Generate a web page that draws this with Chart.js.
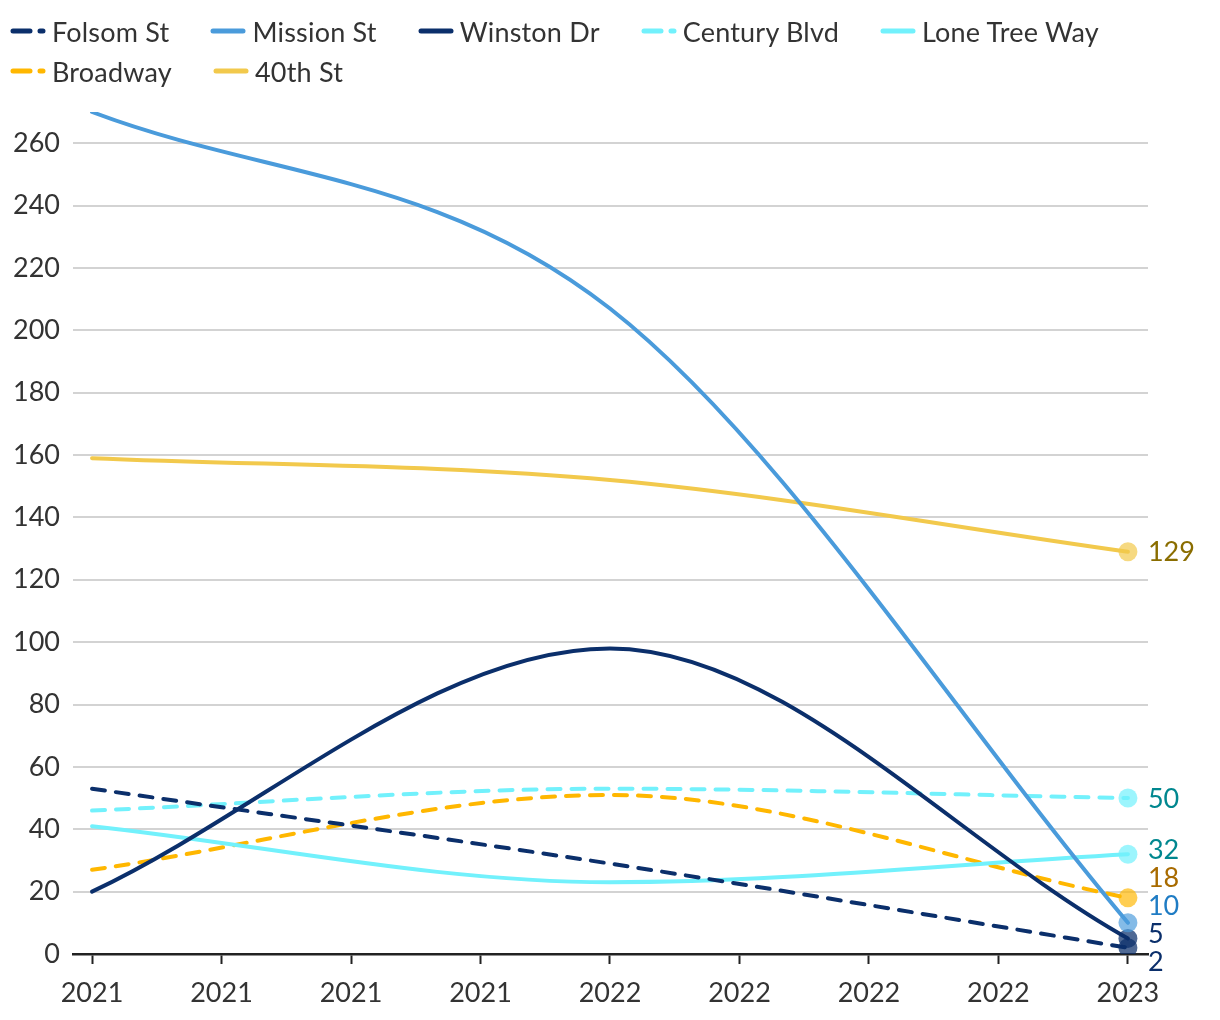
<!DOCTYPE html>
<html>
<head>
<meta charset="utf-8">
<script src="https://cdn.jsdelivr.net/npm/chart.js@4.4.1/dist/chart.umd.min.js"></script>
<style>
  body { margin: 0; background: #fff; }
  #wrap { position: relative; width: 1220px; height: 1020px; }
  #legend {
    position: absolute; left: 10px; top: 11px; width: 1200px;
    display: flex; flex-wrap: wrap;
    font-family: Lato, sans-serif; font-size: 27px; letter-spacing: 0.2px; color: #333;
  }
  .legend-item { display: flex; align-items: center; height: 40px; margin-right: 41px; }
  .legend-item svg { margin-right: 6px; }
</style>
</head>
<body>
<div id="wrap">
  <canvas id="chart" width="1220" height="1020"></canvas>
  <div id="legend"></div>
</div>
<script>
// x 軸刻度（資料只落在 0、4、8 三個位置）
const xLabels = ['2021', '2021', '2021', '2021', '2022', '2022', '2022', '2022', '2023'];
const xIndex = [0, 4, 8];

const seriesNames = ['Folsom St', 'Mission St', 'Winston Dr', 'Century Blvd', 'Lone Tree Way', 'Broadway', '40th St'];
const folsomSt = [53, 29, 2];
const missionSt = [270, 207, 10];
const winstonDr = [20, 98, 5];
const centuryBlvd = [46, 53, 50];
const loneTreeWay = [41, 23, 32];
const broadway = [27, 51, 18];
const fortiethSt = [159, 152, 129];
const seriesValues = [folsomSt, missionSt, winstonDr, centuryBlvd, loneTreeWay, broadway, fortiethSt];

const lineColors = ['#0b2f6b', '#4a9bdb', '#0b2f6b', '#72f1fc', '#72f1fc', '#ffb700', '#f2c94c'];
const markerColors = ['rgba(11,47,107,0.72)', 'rgba(74,155,219,0.68)', 'rgba(11,47,107,0.72)',
  'rgba(114,241,252,0.7)', 'rgba(114,241,252,0.7)', 'rgba(255,183,0,0.68)', 'rgba(242,201,76,0.7)'];
const labelColors = ['#0b2f6b', '#1f7cc4', '#0b2f6b', '#00878f', '#00878f', '#a86b00', '#8a6d00'];
const dashed = [true, false, false, true, false, true, false];

const yMin = 0;
const yMax = 270;
const yStep = 20;

const FONT = 'Lato, sans-serif';

// 圖例（自己畫，才能控制間距）
const legendEl = document.getElementById('legend');
legendEl.innerHTML = seriesNames.map((name, i) => `
  <div class="legend-item">
    <svg width="36" height="10">
      <line x1="3" y1="5" x2="33" y2="5" stroke="${lineColors[i]}" stroke-width="5"
        stroke-linecap="round" ${dashed[i] ? 'stroke-dasharray="17 10"' : ''}/>
    </svg>
    <span>${name}</span>
  </div>`).join('');

// 終點數值標籤，避免重疊
const endLabels = {
  id: 'endLabels',
  afterDatasetsDraw(chart) {
    const ctx = chart.ctx;
    const items = chart.data.datasets.map((ds, i) => {
      const last = ds.data.length - 1;
      const pt = chart.getDatasetMeta(i).data[last];
      return { text: String(ds.data[last].y), color: labelColors[i], x: pt.x, y: pt.y, ly: pt.y };
    }).sort((a, b) => a.y - b.y);

    const gap = 28;
    const bottom = chart.chartArea.bottom + 7;
    for (let i = 1; i < items.length; i++) {
      items[i].ly = Math.max(items[i].ly, items[i - 1].ly + gap);
    }
    if (items[items.length - 1].ly > bottom) items[items.length - 1].ly = bottom;
    for (let i = items.length - 2; i >= 0; i--) {
      items[i].ly = Math.min(items[i].ly, items[i + 1].ly - gap);
    }

    ctx.save();
    ctx.font = `27px ${FONT}`;
    ctx.textAlign = 'left';
    ctx.textBaseline = 'middle';
    items.forEach(it => {
      ctx.fillStyle = it.color;
      ctx.fillText(it.text, it.x + 20, it.ly + 1);
    });
    ctx.restore();
  }
};

const datasets = seriesNames.map((name, i) => ({
  label: name,
  data: seriesValues[i].map((v, j) => ({ x: xIndex[j], y: v })),
  borderColor: lineColors[i],
  borderWidth: 4,
  borderDash: dashed[i] ? [13, 11] : [],
  borderCapStyle: 'round',
  borderJoinStyle: 'round',
  cubicInterpolationMode: 'monotone',
  fill: false,
  pointRadius: ctx => ctx.dataIndex === seriesValues[i].length - 1 ? 9.5 : 0,
  pointHoverRadius: ctx => ctx.dataIndex === seriesValues[i].length - 1 ? 9.5 : 0,
  pointBackgroundColor: markerColors[i],
  pointBorderWidth: 0
}));

new Chart(document.getElementById('chart').getContext('2d'), {
  type: 'line',
  data: { datasets },
  options: {
    responsive: false,
    animation: false,
    events: [],
    layout: { padding: { top: 112, right: 72, bottom: 0, left: 0 } },
    plugins: {
      legend: { display: false },
      tooltip: { enabled: false }
    },
    scales: {
      x: {
        type: 'linear',
        min: -0.147,
        max: 8.155,
        afterFit: scale => { scale.height = 66; },
        ticks: {
          stepSize: 1,
          includeBounds: false,
          autoSkip: false,
          maxRotation: 0,
          padding: 13,
          color: '#333',
          font: { family: FONT, size: 27 },
          callback: v => xLabels[v]
        },
        grid: {
          display: true,
          drawOnChartArea: false,
          drawTicks: true,
          tickLength: 10,
          tickColor: '#222',
          tickWidth: 2
        },
        border: { display: true, color: '#222', width: 2.5 }
      },
      y: {
        min: yMin,
        max: yMax,
        afterFit: scale => { scale.width = 73; },
        ticks: {
          stepSize: yStep,
          includeBounds: false,
          padding: 13,
          color: '#333',
          font: { family: FONT, size: 27 }
        },
        grid: { color: '#d3d3d3', lineWidth: 2, drawTicks: false },
        border: { display: false }
      }
    }
  },
  plugins: [endLabels]
});
</script>
</body>
</html>
